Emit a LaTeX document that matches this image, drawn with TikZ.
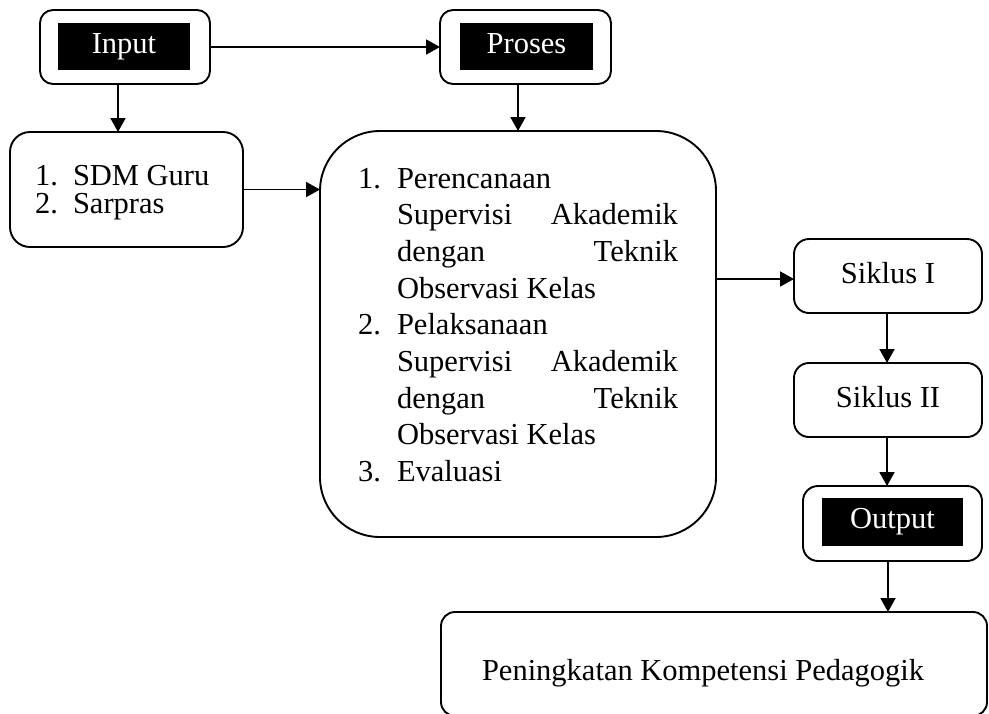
\documentclass[tikz,border=0pt]{standalone}
\usepackage{fontspec}
\setmainfont{Liberation Serif}
\usetikzlibrary{arrows.meta}
\begin{document}
\begin{tikzpicture}[x=1pt,y=-1pt,
  every node/.style={inner sep=0pt, outer sep=0pt, font=\fontsize{30.5}{36.7}\selectfont},
  rbox/.style={draw, line width=1.9pt, rounded corners=#1},
  rbox/.default=14pt,
  blk/.style={fill=black, text=white, text height=20pt, text depth=7pt},
  txt/.style={anchor=base west},
  arr/.style={line width=1.9pt, -{Triangle[length=14pt,width=15pt]}}]
\useasboundingbox (0,0) rectangle (989,713);

% Input
\node[rbox=13pt, minimum width=170pt, minimum height=74pt] (in) at (125,47) {};
\node[blk, minimum width=132pt, minimum height=47pt] (inb) at (124,46.5) {Input};
% Proses
\node[rbox=13pt, minimum width=171pt, minimum height=74pt] (pr) at (525.5,47) {};
\node[blk, minimum width=133pt, minimum height=47pt] (prb) at (526.5,46.5) {Proses};

% SDM box
\node[rbox=20pt, minimum width=233pt, minimum height=115pt] (sdm) at (126.5,189.5) {};
\node[txt] (s1n) at (35,185) {1.};
\node[txt] (s1t) at (73,185) {SDM Guru};
\node[txt] (s2n) at (35,213) {2.};
\node[txt] (s2t) at (73,213) {Sarpras};

% Big process box
\node[rbox=60pt, minimum width=396pt, minimum height=406pt] (big) at (518,334) {};
\node[txt] (b1n) at (358,188) {1.};
\node[txt] (b1a) at (397,188) {Perencanaan};
\node[txt] (b1b) at (397,224.7) {\hbox to 281pt{Supervisi\hfil Akademik}};
\node[txt] (b1c) at (397,261.4) {\hbox to 281pt{dengan\hfil Teknik}};
\node[txt] (b1d) at (397,298.1) {Observasi Kelas};
\node[txt] (b2n) at (358,334.8) {2.};
\node[txt] (b2a) at (397,334.8) {Pelaksanaan};
\node[txt] (b2b) at (397,371.5) {\hbox to 281pt{Supervisi\hfil Akademik}};
\node[txt] (b2c) at (397,408.2) {\hbox to 281pt{dengan\hfil Teknik}};
\node[txt] (b2d) at (397,444.9) {Observasi Kelas};
\node[txt] (b3n) at (358,481.6) {3.};
\node[txt] (b3a) at (397,481.6) {Evaluasi};

% Siklus boxes
\node[rbox=15pt, minimum width=188pt, minimum height=74pt] (sk1) at (888,276) {};
\node[anchor=base] (sk1t) at (888,283) {Siklus I};
\node[rbox=15pt, minimum width=188pt, minimum height=74pt] (sk2) at (888,400) {};
\node[anchor=base] (sk2t) at (888,407) {Siklus II};

% Output
\node[rbox=15pt, minimum width=179pt, minimum height=75pt] (out) at (892.5,523.5) {};
\node[blk, minimum width=141pt, minimum height=48pt] (outb) at (892.5,522) {Output};

% Final
\node[rbox=14pt, minimum width=546pt, minimum height=104pt] (fin) at (714,664) {};
\node[txt] (fint) at (482,680) {Peningkatan Kompetensi Pedagogik};

% Connectors
\draw[arr] (in.east) -- (pr.west);
\draw[arr] ([xshift=-7pt]in.south) -- ([xshift=-7pt]in.south |- sdm.north);
\draw[arr] (pr.south -| big.north) -- (big.north);
\draw[arr] (sdm.east) -- (sdm.east -| big.west);
\draw[arr] ([yshift=-3pt]big.east |- sk1.west) -- ([yshift=-3pt]sk1.west);
\draw[arr] ([xshift=-1pt]sk1.south) -- ([xshift=-1pt]sk2.north);
\draw[arr] ([xshift=-1pt]sk2.south) -- ([xshift=-1pt]sk2.south |- out.north);
\draw[arr] (out.south -| sk2.south) -- (sk2.south |- fin.north);
\end{tikzpicture}
\end{document}
